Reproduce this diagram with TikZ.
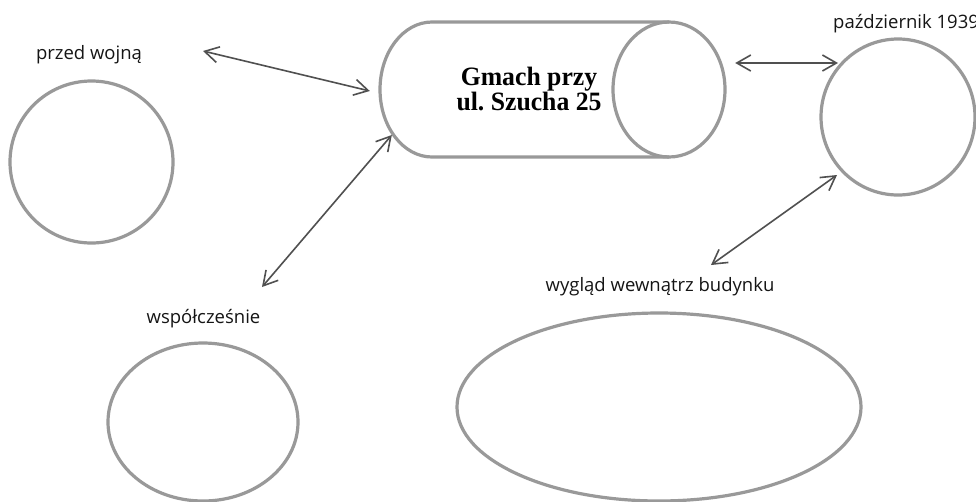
\documentclass[tikz,border=0pt]{standalone}
\usepackage{fontspec}
\usepackage{graphicx}
\usetikzlibrary{arrows.meta,shapes.geometric,calc}
\newfontfamily\lblfont{Open Sans}
\newfontfamily\ttlfont{Liberation Serif}
\definecolor{shapegray}{HTML}{999999}
\definecolor{arrowgray}{HTML}{505050}
\definecolor{txt}{HTML}{151515}
\newcommand\twolines[2]{\vbox{\baselineskip=25pt\lineskiplimit=-100pt\lineskip=0pt\halign{\hfil##\hfil\cr#1\cr#2\cr}}}
\begin{document}
\begin{tikzpicture}[x=1pt,y=-1pt,
  ring/.style={draw=shapegray, line width=3.2pt, ellipse, inner sep=0pt},
  outline/.style={draw=shapegray, line width=3.2pt},
  lbl/.style={font=\lblfont\fontsize{18.5}{22}\selectfont, text=txt, inner sep=0pt},
  biarr/.style={draw=arrowgray, line width=1.6pt, {Straight Barb[length=14pt,width=16pt]}-{Straight Barb[length=14pt,width=16pt]}}]
\useasboundingbox (0,0) rectangle (976,501);
\fill[white] (0,0) rectangle (976,501);
% cylinder
\node[inner sep=0pt, minimum width=345pt, minimum height=135pt] (gmach) at (552.5,89.5) {};
\draw[outline] (669,22) -- (432,22) arc[start angle=270, end angle=90, x radius=52, y radius=67.5] -- (669,157);
\draw[outline] (669,89.5) ellipse[x radius=56, y radius=67.5];
\node[anchor=base, inner sep=0pt, text=black, font=\ttlfont\bfseries\fontsize{26.5}{25}\selectfont] (title) at (529,110)
  {\scalebox{0.97}[1]{\twolines{Gmach przy}{ul.\ Szucha 25}}};
% circles
\node[ring, minimum width=163pt, minimum height=162pt] (c1) at (91.5,162) {};
\node[ring, minimum width=154pt, minimum height=156pt] (c2) at (898,117) {};
\node[ring, minimum width=190pt, minimum height=158pt] (c3) at (203,422) {};
\node[ring, minimum width=404pt, minimum height=188pt] (c4) at (659,407) {};
% labels
\node[lbl, anchor=base] (wojna) at (89,59) {przed wojną};
\node[lbl, anchor=base west] (pazdz) at (833,28) {październik 1939};
\node[lbl, anchor=base] (wsp) at (203.5,323) {współcześnie};
\node[lbl, anchor=base] (wyglad) at (660,291) {wygląd wewnątrz budynku};
% arrows
\coordinate (p1) at (203,51);
\coordinate (p2) at (262,287);
\coordinate (p4) at (711,265);
\draw[biarr] (p1) -- ($(gmach.west)+(-10,1.5)$);
\draw[biarr] (p2) -- ($(gmach.west)+(12,45.5)$);
\draw[biarr] ($(gmach.east)+(10,-26.5)$) -- ($(c2.center)+(-60,-54)$);
\draw[biarr] (p4) -- ($(c2.center)+(-61,58)$);
\end{tikzpicture}
\end{document}
